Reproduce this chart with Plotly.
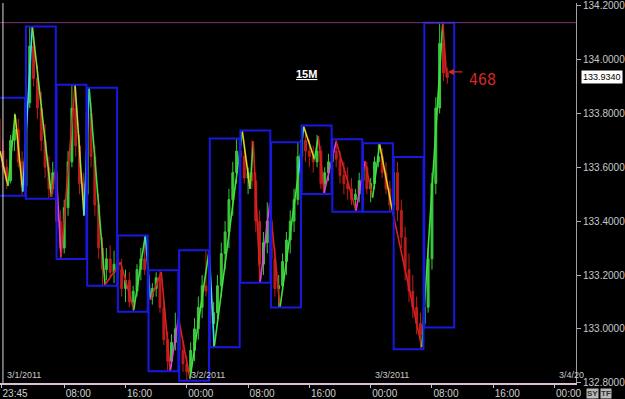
import plotly.graph_objects as go
import pandas as pd

# ---------------- data ----------------
bar_start = "2011-02-28 23:00"   # first 30-minute bar
opens = [133.80, 133.78, 133.66, 133.60, 133.55, 133.70, 133.74, 133.62,
         133.53, 133.84, 134.05, 133.93, 133.82, 133.70, 133.60, 133.52,
         133.58, 133.40, 133.30, 133.45, 133.62, 133.82, 133.68, 133.54,
         133.50, 133.80, 133.64, 133.46, 133.30, 133.22, 133.26, 133.21,
         133.24, 133.22, 133.15, 133.18, 133.10, 133.14, 133.22, 133.26,
         133.20, 133.12, 133.15, 133.19, 133.08, 132.96, 132.88, 132.95,
         133.00, 132.92, 132.87, 132.84, 132.92, 133.00, 133.08, 133.16,
         133.14, 133.02, 133.06, 133.16, 133.28, 133.36, 133.48, 133.58,
         133.66, 133.64, 133.56, 133.58, 133.55, 133.40, 133.24, 133.32,
         133.40, 133.26, 133.15, 133.16, 133.25, 133.33, 133.40, 133.48,
         133.64, 133.70, 133.66, 133.64, 133.62, 133.66, 133.54, 133.58,
         133.62, 133.66, 133.63, 133.57, 133.54, 133.52, 133.48, 133.50,
         133.55, 133.60, 133.52, 133.54, 133.62, 133.64, 133.58, 133.52,
         133.46, 133.58, 133.44, 133.34, 133.22, 133.14, 133.08, 133.02,
         133.02, 133.08, 133.26, 133.54, 133.82, 134.06, 133.95]
highs = [133.858, 133.80, 133.70, 133.63, 133.72, 133.80, 133.78, 133.66,
         133.86, 134.123, 134.08, 133.98, 133.88, 133.76, 133.64, 133.62,
         133.60, 133.44, 133.48, 133.66, 133.906, 133.86, 133.72, 133.58,
         133.895, 133.84, 133.68, 133.50, 133.34, 133.30, 133.31, 133.29,
         133.29, 133.26, 133.22, 133.21, 133.16, 133.24, 133.30, 133.347,
         133.218, 133.17, 133.21, 133.215, 133.11, 132.99, 132.98, 133.06,
         133.02, 132.95, 132.90, 132.95, 133.04, 133.12, 133.20, 133.292,
         133.16, 133.10, 133.20, 133.32, 133.40, 133.52, 133.62, 133.707,
         133.737, 133.66, 133.60, 133.70, 133.58, 133.44, 133.36, 133.47,
         133.44, 133.30, 133.20, 133.28, 133.36, 133.44, 133.52, 133.693,
         133.755, 133.73, 133.70, 133.68, 133.72, 133.68, 133.60, 133.65,
         133.68, 133.704, 133.66, 133.62, 133.60, 133.56, 133.52, 133.58,
         133.63, 133.62, 133.56, 133.64, 133.689, 133.67, 133.62, 133.55,
         133.638, 133.62, 133.48, 133.38, 133.28, 133.20, 133.12, 133.06,
         133.10, 133.30, 133.58, 133.86, 134.137, 134.10, 133.97]
lows = [133.76, 133.64, 133.58, 133.52, 133.54, 133.66, 133.60, 133.494,
        133.52, 133.82, 133.90, 133.78, 133.66, 133.56, 133.483, 133.50,
        133.38, 133.259, 133.28, 133.42, 133.60, 133.64, 133.50, 133.42,
        133.48, 133.60, 133.42, 133.26, 133.160, 133.18, 133.19, 133.17,
        133.18, 133.12, 133.10, 133.08, 133.064, 133.12, 133.18, 133.20,
        133.10, 133.09, 133.12, 133.06, 132.94, 132.843, 132.86, 132.92,
        132.90, 132.84, 132.807, 132.82, 132.88, 132.96, 133.04, 133.12,
        133.00, 132.932, 133.02, 133.12, 133.22, 133.30, 133.42, 133.54,
        133.60, 133.54, 133.50, 133.52, 133.36, 133.171, 133.20, 133.28,
        133.22, 133.12, 133.079, 133.14, 133.20, 133.28, 133.36, 133.46,
        133.62, 133.62, 133.60, 133.58, 133.60, 133.52, 133.501, 133.55,
        133.58, 133.60, 133.54, 133.50, 133.48, 133.46, 133.435, 133.47,
        133.52, 133.50, 133.47, 133.52, 133.60, 133.56, 133.50, 133.435,
        133.44, 133.40, 133.30, 133.18, 133.10, 133.04, 132.98, 132.924,
        133.005, 133.06, 133.22, 133.50, 133.80, 133.92, 133.91]
closes = [133.78, 133.66, 133.60, 133.55, 133.70, 133.74, 133.62, 133.53,
          133.84, 134.05, 133.93, 133.82, 133.70, 133.60, 133.52, 133.58,
          133.40, 133.30, 133.45, 133.62, 133.82, 133.68, 133.54, 133.50,
          133.80, 133.64, 133.46, 133.30, 133.22, 133.26, 133.21, 133.24,
          133.22, 133.15, 133.18, 133.10, 133.14, 133.22, 133.26, 133.22,
          133.12, 133.15, 133.19, 133.08, 132.96, 132.88, 132.95, 133.00,
          132.92, 132.87, 132.84, 132.92, 133.00, 133.08, 133.16, 133.14,
          133.02, 133.06, 133.16, 133.28, 133.36, 133.48, 133.58, 133.66,
          133.64, 133.56, 133.58, 133.55, 133.40, 133.24, 133.32, 133.40,
          133.26, 133.15, 133.16, 133.25, 133.33, 133.40, 133.48, 133.64,
          133.70, 133.66, 133.64, 133.62, 133.66, 133.54, 133.58, 133.62,
          133.66, 133.63, 133.57, 133.54, 133.52, 133.48, 133.50, 133.55,
          133.60, 133.52, 133.54, 133.62, 133.64, 133.58, 133.52, 133.46,
          133.58, 133.44, 133.34, 133.22, 133.14, 133.08, 133.02, 132.98,
          133.08, 133.26, 133.54, 133.82, 134.06, 133.95, 133.934]

# swing line (zigzag)
swing_times = ["2011-02-28 23:37", "2011-03-01 00:40", "2011-03-01 01:35", "2011-03-01 02:35",
               "2011-03-01 03:50", "2011-03-01 06:20", "2011-03-01 06:55", "2011-03-01 07:35",
               "2011-03-01 09:25", "2011-03-01 10:35", "2011-03-01 11:15", "2011-03-01 13:20",
               "2011-03-01 15:20", "2011-03-01 17:05", "2011-03-01 18:35", "2011-03-01 19:15",
               "2011-03-01 20:40", "2011-03-01 21:50", "2011-03-01 22:55", "2011-03-02 00:25",
               "2011-03-02 02:55", "2011-03-02 03:35", "2011-03-02 07:15", "2011-03-02 08:15",
               "2011-03-02 08:40", "2011-03-02 09:35", "2011-03-02 10:50", "2011-03-02 12:10",
               "2011-03-02 14:35", "2011-03-02 15:15", "2011-03-02 16:40", "2011-03-02 17:10",
               "2011-03-02 17:55", "2011-03-02 19:30", "2011-03-02 22:05", "2011-03-02 23:15",
               "2011-03-03 00:15", "2011-03-03 01:10", "2011-03-03 02:50", "2011-03-03 06:40",
               "2011-03-03 09:25", "2011-03-03 09:55"]
swing_prices = [133.660, 133.531, 133.796, 133.510, 134.123, 133.490, 133.604, 133.266,
                133.906, 133.421, 133.895, 133.163, 133.248, 133.071, 133.347, 133.108,
                133.211, 132.843, 133.042, 132.814, 133.292, 132.932, 133.733, 133.520,
                133.696, 133.174, 133.468, 133.079, 133.579, 133.751, 133.630, 133.715,
                133.505, 133.696, 133.439, 133.623, 133.487, 133.685, 133.439, 132.932,
                134.137, 133.934]
seg_colors = ["#d8d820", "#40e040", "#d8d820", "#40d8ff", "#7ee040", "#d82020",
              "#e040e0", "#d82020", "#b0e040", "#40d8ff", "#40e040", "#d82020",
              "#d82020", "#40e040", "#40d8ff", "#d82020", "#d82020", "#e040e0",
              "#d82020", "#40e040", "#40d8ff", "#40e040", "#d8d820", "#40e040",
              "#d82020", "#e040e0", "#d82020", "#40e040", "#40d8ff", "#d8d820",
              "#40e040", "#d82020", "#e040e0", "#d82020", "#e040e0", "#d82020",
              "#40e040", "#d8d820", "#d82020", "#40e040", "#d82020"]

box_first = "2011-02-28 23:00"
box_hours = 4
n_boxes = 15

y_ticks = [132.8, 133.0, 133.2, 133.4, 133.6, 133.8, 134.0, 134.2]
x_tickvals = ["2011-02-28 23:45", "2011-03-01 08:00", "2011-03-01 16:00", "2011-03-02 00:00",
              "2011-03-02 08:00", "2011-03-02 16:00", "2011-03-03 00:00", "2011-03-03 08:00",
              "2011-03-03 16:00", "2011-03-04 00:00"]
x_ticktext = ["23:45", "08:00", "16:00", "00:00", "08:00", "16:00", "00:00", "08:00", "16:00", "00:00"]
date_pos = ["2011-03-01", "2011-03-02", "2011-03-03", "2011-03-04"]
date_text = ["3/1/2011", "3/2/2011", "3/3/2011", "3/4/20"]
last_price = 133.934
tick_count = "468"
timeframe = "15M"

# ---------------- figure ----------------
times = pd.date_range(bar_start, periods=len(opens), freq="30min")
df = pd.DataFrame(dict(t=times, o=opens, h=highs, l=lows, c=closes))

fig = go.Figure()
fig.add_trace(go.Candlestick(
    x=df.t, open=df.o, high=df.h, low=df.l, close=df.c,
    increasing=dict(line=dict(color="#3cc83c", width=1), fillcolor="#3cc83c"),
    decreasing=dict(line=dict(color="#c01c1c", width=1), fillcolor="#c01c1c"),
    whiskerwidth=0, showlegend=False, hoverinfo="skip"))

for k in range(len(swing_times) - 1):
    fig.add_trace(go.Scatter(
        x=swing_times[k:k + 2], y=swing_prices[k:k + 2], mode="lines",
        line=dict(color=seg_colors[k], width=1.6), showlegend=False, hoverinfo="skip"))

# 4-hour range boxes computed from the bars
for s in pd.date_range(box_first, periods=n_boxes, freq=f"{box_hours}h"):
    e = s + pd.Timedelta(hours=box_hours)
    m = (df.t >= s) & (df.t < e)
    if not m.any():
        continue
    fig.add_shape(type="rect", xref="x", yref="y",
                  x0=s.strftime("%Y-%m-%d %H:%M"),
                  x1=(e - pd.Timedelta(minutes=6)).strftime("%Y-%m-%d %H:%M"),
                  y0=float(df.l[m].min()), y1=float(df.h[m].max()),
                  line=dict(color="#1818e0", width=2))

# high line
fig.add_shape(type="line", xref="paper", yref="y", x0=0, x1=1,
              y0=max(highs), y1=max(highs), line=dict(color="#803080", width=1))
# start-of-data vertical line
fig.add_shape(type="line", xref="x", yref="paper", x0="2011-03-01 00:00", x1="2011-03-01 00:00",
              y0=0, y1=1, line=dict(color="#d8d8d8", width=1))

fig.add_annotation(x="2011-03-02 15:35", y=133.945, text=f"<b><u>{timeframe}</u></b>",
                   showarrow=False, font=dict(color="white", size=11, family="Liberation Sans"))
fig.add_annotation(x="2011-03-03 10:05", y=last_price + 0.02, ax=16, ay=0, text="",
                   showarrow=True, arrowhead=2, arrowsize=1, arrowwidth=1.2, arrowcolor="#d02828")
fig.add_annotation(x="2011-03-03 14:35", y=last_price - 0.01, text=tick_count, showarrow=False,
                   font=dict(color="#d02828", size=15, family="DejaVu Sans Mono"))
fig.add_annotation(xref="paper", x=1, xanchor="left", xshift=5, y=last_price, text=f"{last_price:.4f}",
                   showarrow=False, bgcolor="white", font=dict(color="black", size=9, family="Liberation Sans"),
                   borderpad=1)
for d, t in zip(date_pos, date_text):
    fig.add_annotation(x=d, xanchor="left", xshift=2, yref="paper", y=0, yanchor="bottom", yshift=1,
                       text=t, showarrow=False, font=dict(color="#c8c8c8", size=9, family="Liberation Sans"))
for xs, t in [(10, "SY"), (24, "TF")]:
    fig.add_annotation(xref="paper", x=1, xanchor="left", xshift=xs, yref="paper", y=0, yanchor="top",
                       yshift=-5, text=f"<b>{t}</b>", showarrow=False, bgcolor="#b8b8b8",
                       font=dict(color="#303030", size=8, family="Liberation Sans"), borderpad=0)

fig.update_layout(
    width=625, height=399, margin=dict(l=0, r=42, t=0, b=16),
    paper_bgcolor="black", plot_bgcolor="black", showlegend=False,
    xaxis=dict(type="date", range=["2011-02-28 23:37", "2011-03-04 02:48"],
               tickvals=x_tickvals, ticktext=x_ticktext, showgrid=False, zeroline=False,
               ticks="outside", ticklen=3, tickcolor="#c0c0c0", ticklabelposition="outside right",
               ticklabeloverflow="allow",
               tickfont=dict(color="#d0d0d0", size=10, family="Liberation Sans"),
               showline=True, linecolor="#d8c0d8", linewidth=2,
               rangeslider=dict(visible=False), fixedrange=True),
    yaxis=dict(side="right", range=[132.799, 134.210], tickvals=y_ticks, tickformat=".4f",
               showgrid=False, zeroline=False, ticks="outside", ticklen=4, tickcolor="#b0b0b0",
               ticklabeloverflow="allow",
               tickfont=dict(color="#c8c8c8", size=10, family="Liberation Sans"),
               showline=True, linecolor="#a0a0a0", linewidth=1, fixedrange=True),
)

fig.write_html("out.html")
